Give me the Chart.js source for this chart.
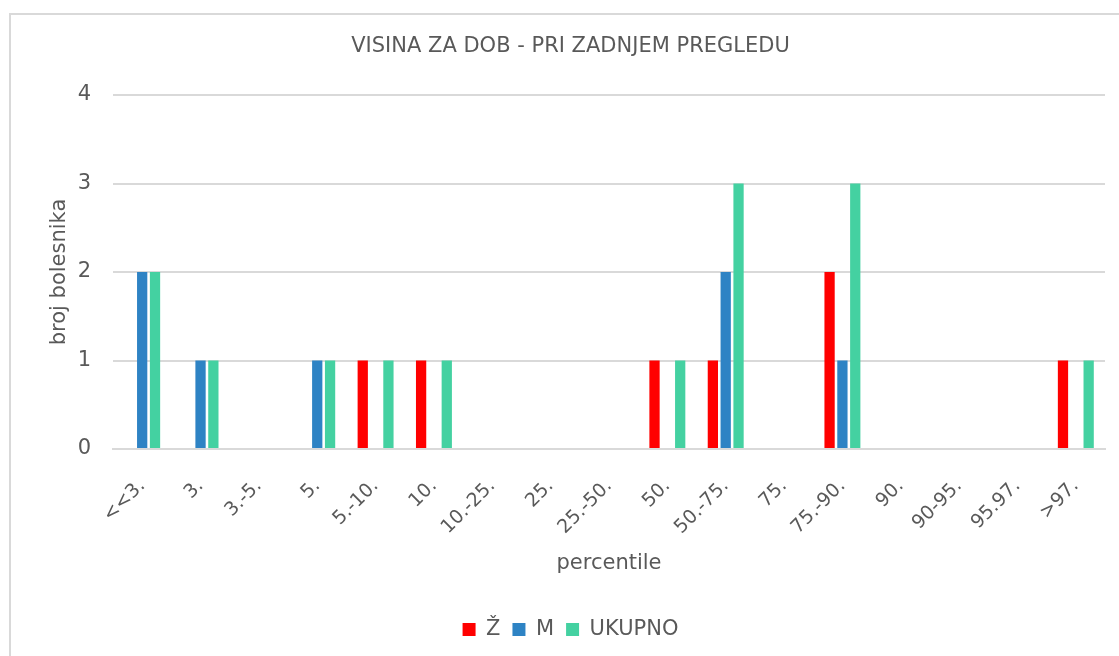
<!DOCTYPE html>
<html>
<head>
<meta charset="utf-8">
<script src="https://cdn.jsdelivr.net/npm/chart.js@4/dist/chart.umd.min.js"></script>
<style>
  html, body { margin: 0; padding: 0; background: #fff; }
  #wrap { position: relative; width: 1119px; height: 656px; overflow: hidden; }
  #frame { position: absolute; left: 9px; top: 13px; width: 1200px; height: 800px;
           border-left: 2px solid #D9D9D9; border-top: 2px solid #D9D9D9; pointer-events: none; }
  canvas { position: absolute; left: 0; top: 0; }
</style>
</head>
<body>
<div id="wrap">
  <canvas id="c" width="1119" height="656"></canvas>
  <div id="frame"></div>
</div>
<script>
const categories = ["<<3.", "3.", "3.-5.", "5.", "5.-10.", "10.", "10.-25.", "25.", "25.-50.", "50.", "50.-75.", "75.", "75.-90.", "90.", "90-95.", "95.97.", ">97."];
const zenske  = [0, 0, 0, 0, 1, 1, 0, 0, 0, 1, 1, 0, 2, 0, 0, 0, 1];
const muski   = [2, 1, 0, 1, 0, 0, 0, 0, 0, 0, 2, 0, 1, 0, 0, 0, 0];
const ukupno  = [2, 1, 0, 1, 1, 1, 0, 0, 0, 1, 3, 0, 3, 0, 0, 0, 1];
const seriesNames = ["Ž", "M", "UKUPNO"];
const yTicks = [0, 1, 2, 3, 4];

const FONT = "'DejaVu Sans', sans-serif";
const TXT = "#595959";
const GRID = "#D9D9D9";

new Chart(document.getElementById('c'), {
  type: 'bar',
  data: {
    labels: categories,
    datasets: [
      { label: seriesNames[0], data: zenske, backgroundColor: '#FF0000' },
      { label: seriesNames[1], data: muski,  backgroundColor: '#2E83C4' },
      { label: seriesNames[2], data: ukupno, backgroundColor: '#44D1A1' }
    ]
  },
  options: {
    responsive: false,
    animation: false,
    devicePixelRatio: 1,
    layout: { padding: { left: 36, right: 14, top: 0, bottom: 6 } },
    datasets: { bar: { categoryPercentage: 0.66, barPercentage: 0.8 } },
    plugins: {
      title: {
        display: true,
        text: 'VISINA ZA DOB - PRI ZADNJEM PREGLEDU',
        color: TXT,
        font: { family: FONT, size: 21, weight: 'normal', lineHeight: 1.2 },
        padding: { top: 34.4, bottom: 35.4 }
      },
      legend: {
        position: 'bottom',
        labels: {
          color: TXT,
          font: { family: FONT, size: 21 },
          boxWidth: 13, boxHeight: 13,
          padding: 12
        }
      },
      tooltip: { enabled: false }
    },
    scales: {
      x: {
        grid: { display: false, drawTicks: false },
        border: { display: true, color: GRID, width: 2 },
        ticks: { color: TXT, font: { family: FONT, size: 19 }, minRotation: 45, maxRotation: 45, autoSkip: false, padding: 26 },
        title: { display: true, text: 'percentile', color: TXT, font: { family: FONT, size: 21 }, padding: { top: 0, bottom: 31 } },
        afterFit: (s) => { s.height = 158; }
      },
      y: {
        min: 0, max: 4,
        afterBuildTicks: (s) => { s.ticks = yTicks.map(v => ({ value: v })); },
        grid: { color: GRID, lineWidth: 2, drawTicks: false },
        border: { display: false },
        ticks: { color: TXT, font: { family: FONT, size: 21 }, padding: 22 },
        title: { display: true, text: 'broj bolesnika', color: TXT, font: { family: FONT, size: 21 }, padding: { top: 11, bottom: 0 } },
        afterFit: (s) => { s.width = 77; }
      }
    }
  }
});
</script>
</body>
</html>
